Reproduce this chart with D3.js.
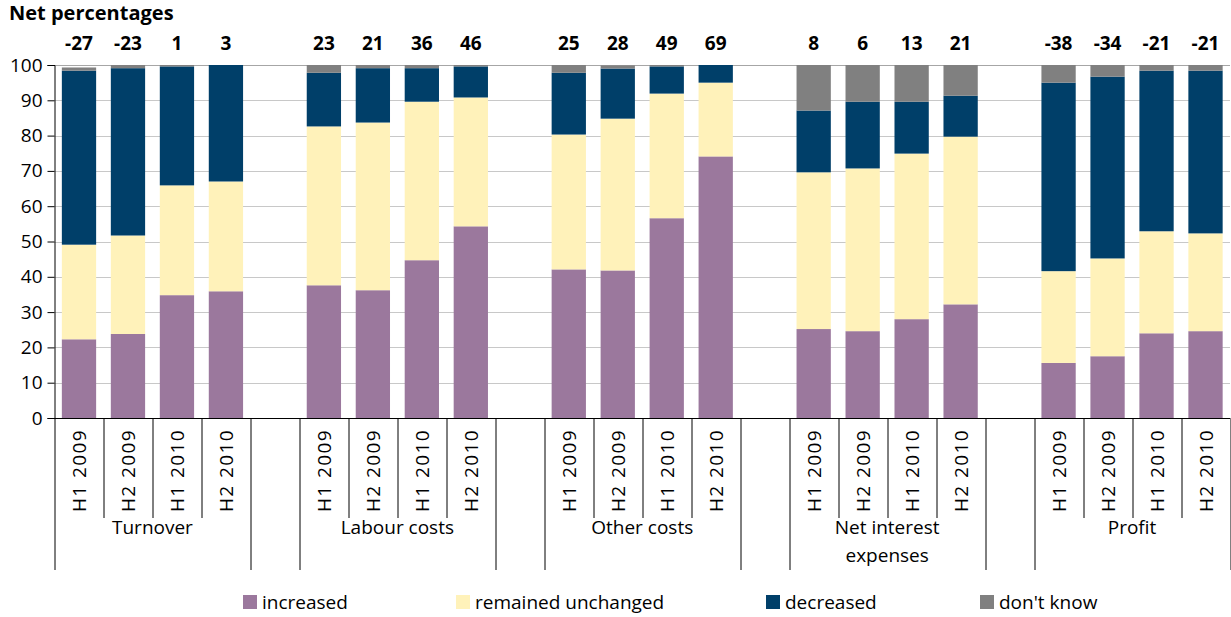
<!DOCTYPE html>
<html>
<head>
<meta charset="utf-8">
<script src="https://cdn.jsdelivr.net/npm/d3@7"></script>
<style>
  body { margin: 0; background: #fff; }
  svg text { font-family: "Open Sans", Lato, sans-serif; fill: #000; }
</style>
</head>
<body>
<div id="chart"></div>
<script>
// data
const groups = ["Turnover", "Labour costs", "Other costs", "Net interest expenses", "Profit"]
const periods = ["H1 2009", "H2 2009", "H1 2010", "H2 2010"]
const increased = [22.3, 23.8, 34.8, 35.9, 37.6, 36.2, 44.7, 54.3, 42.1, 41.8, 56.6, 74.1, 25.2, 24.6, 28.0, 32.2, 15.6, 17.5, 24.0, 24.6]
const unchanged = [26.8, 27.9, 31.1, 31.1, 45.0, 47.5, 44.9, 36.5, 38.2, 43.0, 35.3, 20.9, 44.4, 46.1, 46.9, 47.5, 26.0, 27.7, 28.9, 27.7]
const decreased = [49.3, 47.4, 33.7, 33.0, 15.2, 15.4, 9.5, 8.8, 17.5, 14.2, 7.7, 5.0, 17.5, 18.9, 14.7, 11.6, 53.4, 51.5, 45.5, 46.1]
const dontKnow = [0.9, 0.9, 0.4, 0, 2.2, 0.9, 0.9, 0.4, 2.2, 0.9, 0.4, 0, 12.9, 10.4, 10.4, 8.7, 5.0, 3.3, 1.6, 1.6]
const netLabels = [-27, -23, 1, 3, 23, 21, 36, 46, 25, 28, 49, 69, 8, 6, 13, 21, -38, -34, -21, -21]
const yTicks = [0, 10, 20, 30, 40, 50, 60, 70, 80, 90, 100]
const seriesNames = ["increased", "remained unchanged", "decreased", "don't know"]
const seriesColors = ["#9B789D", "#FFF2BA", "#003F69", "#808080"]

class StackedChart {
    constructor(_config) {
        this.config = {
            parentElement: _config.parentElement,
            containerWidth: 1231,
            containerHeight: 617,
            margin: { top: 65, right: 1, bottom: 199, left: 54.5 }
        }
        this.data = this.processData()
        this.initVis()
    }

    processData() {
        var rows = []
        var slots = []
        groups.forEach(function (g, gi) {
            periods.forEach(function (p, pi) {
                var i = gi * periods.length + pi
                var key = g + "|" + p
                slots.push(key)
                rows.push({
                    key: key, group: g, period: p, net: netLabels[i],
                    "increased": increased[i],
                    "remained unchanged": unchanged[i],
                    "decreased": decreased[i],
                    "don't know": dontKnow[i]
                })
            })
            if (gi < groups.length - 1) slots.push("gap" + gi)
        })
        this.slots = slots
        return rows
    }

    initVis() {
        var vis = this
        var c = vis.config
        c.visWidth = c.containerWidth - c.margin.left - c.margin.right
        c.visHeight = c.containerHeight - c.margin.top - c.margin.bottom

        vis.xScale = d3.scaleBand()
            .domain(vis.slots)
            .range([0, c.visWidth])
            .paddingInner(0.3)
            .paddingOuter(0.15)
        vis.yScale = d3.scaleLinear()
            .domain([0, 100])
            .range([c.visHeight, 0])

        vis.svg = d3.select(c.parentElement).append("svg")
            .attr("width", c.containerWidth)
            .attr("height", c.containerHeight)

        vis.svg.append("text")
            .attr("x", 9)
            .attr("y", 20)
            .style("font-size", "20px")
            .style("font-weight", "bold")
            .text("Net percentages")

        vis.chart = vis.svg.append("g")
            .attr("transform", `translate(${c.margin.left},${c.margin.top})`)

        // gridlines
        vis.chart.append("g").selectAll("line")
            .data(yTicks.filter(d => d > 0))
            .join("line")
            .attr("x1", 0)
            .attr("x2", c.visWidth)
            .attr("y1", d => Math.round(vis.yScale(d)) + 0.5)
            .attr("y2", d => Math.round(vis.yScale(d)) + 0.5)
            .attr("stroke", d => d === 100 ? "#A6A6A6" : "#C8C8C8")
            .attr("stroke-width", 1.2)

        vis.yAxis = d3.axisLeft(vis.yScale)
            .tickValues(yTicks)
            .tickSize(7)
            .tickPadding(5)
        vis.yAxisGroup = vis.chart.append("g")
            .attr("class", "axis y-axis")
            .call(vis.yAxis)
        vis.yAxisGroup.selectAll("text").style("font-size", "19px")
        vis.yAxisGroup.selectAll("line, path").attr("stroke", "#000")

        vis.updateVis()
    }

    updateVis() {
        var vis = this
        vis.stack = d3.stack().keys(seriesNames)(vis.data)
        vis.renderVis()
    }

    renderVis() {
        var vis = this
        var c = vis.config
        var step = vis.xScale.step()
        var bw = vis.xScale.bandwidth()
        var slotLeft = k => vis.xScale(k) - (step - bw) / 2

        vis.chart.append("g").selectAll("g")
            .data(vis.stack)
            .join("g")
            .attr("fill", (d, i) => seriesColors[i])
            .selectAll("rect")
            .data(d => d)
            .join("rect")
            .attr("x", d => vis.xScale(d.data.key))
            .attr("y", d => vis.yScale(d[1]))
            .attr("height", d => vis.yScale(d[0]) - vis.yScale(d[1]))
            .attr("width", bw)

        // net percentage labels
        vis.chart.append("g").selectAll("text")
            .data(vis.data)
            .join("text")
            .attr("x", d => vis.xScale(d.key) + bw / 2)
            .attr("y", -15)
            .attr("text-anchor", "middle")
            .style("font-size", "19px")
            .style("font-weight", "bold")
            .text(d => d.net)

        // category axis
        var xAxisG = vis.chart.append("g")
            .attr("transform", `translate(0,${c.visHeight})`)
        xAxisG.append("line")
            .attr("x1", 0).attr("x2", c.visWidth)
            .attr("y1", 0.5).attr("y2", 0.5)
            .attr("stroke", "#000")

        // separators: short ones between periods, long ones around groups
        var seps = []
        vis.slots.forEach(function (k, i) {
            var isGroupEdge = i === 0 || k.startsWith("gap") || vis.slots[i - 1].startsWith("gap")
            seps.push({ x: slotLeft(k), long: isGroupEdge })
        })
        seps.push({ x: c.visWidth, long: true })
        xAxisG.selectAll(".sep")
            .data(seps)
            .join("line")
            .attr("class", "sep")
            .attr("x1", d => Math.round(d.x) + 0.5)
            .attr("x2", d => Math.round(d.x) + 0.5)
            .attr("y1", 0)
            .attr("y2", d => d.long ? 152 : 100)
            .attr("stroke", "#000")

        xAxisG.selectAll(".period")
            .data(vis.data)
            .join("text")
            .attr("class", "period")
            .attr("transform", d => `translate(${vis.xScale(d.key) + bw / 2 + 7},11) rotate(-90)`)
            .attr("text-anchor", "end")
            .style("font-size", "19px")
            .style("letter-spacing", "1.4px")
            .text(d => d.period)

        var groupLabels = xAxisG.selectAll(".group")
            .data(groups)
            .join("text")
            .attr("class", "group")
            .attr("text-anchor", "middle")
            .attr("x", g => {
                var a = slotLeft(g + "|" + periods[0])
                var b = slotLeft(g + "|" + periods[3]) + step
                return (a + b) / 2
            })
            .attr("y", 116)
            .style("font-size", "19px")
        groupLabels.each(function (g) {
            var lines = g === "Net interest expenses" ? ["Net interest", "expenses"] : [g]
            d3.select(this).selectAll("tspan")
                .data(lines)
                .join("tspan")
                .attr("x", d3.select(this).attr("x"))
                .attr("dy", (d, i) => i === 0 ? 0 : 28)
                .text(d => d)
        })

        // legend
        var legendX = [243, 456, 766, 980]
        var legend = vis.svg.append("g").selectAll("g")
            .data(seriesNames)
            .join("g")
            .attr("transform", (d, i) => `translate(${legendX[i]},595)`)
        legend.append("rect")
            .attr("width", 14).attr("height", 14)
            .attr("fill", (d, i) => seriesColors[i])
        legend.append("text")
            .attr("x", 19).attr("y", 14)
            .style("font-size", "19px")
            .text(d => d)
    }
}

new StackedChart({ parentElement: "#chart" })
</script>
</body>
</html>
